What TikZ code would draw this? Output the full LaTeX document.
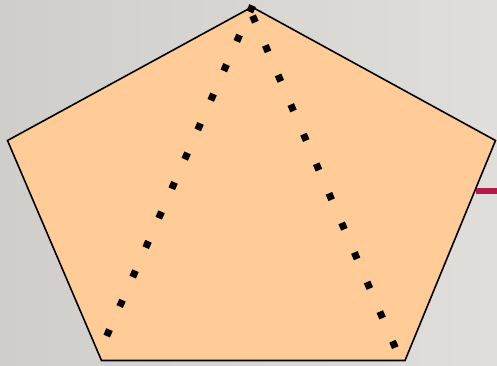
\documentclass[tikz,border=0pt]{standalone}
\usetikzlibrary{calc}
\definecolor{bgL}{RGB}{208,206,202}
\definecolor{bgR}{RGB}{224,222,219}
\definecolor{peach}{RGB}{255,203,151}
\definecolor{crimson}{RGB}{183,24,74}
\tikzset{
  pent/.style={draw=black, line width=1.6pt, fill=peach, line join=miter},
  dotline/.style={line width=7pt, line cap=butt, dash pattern=on 7pt off 25.2pt},
  accent/.style={draw=crimson, line width=5.5pt}
}
\begin{document}
\begin{tikzpicture}[x=1pt,y=-1pt]
\useasboundingbox (0,0) rectangle (497,365);
\shade[left color=bgL, right color=bgR] (0,0) rectangle (497,365);
\coordinate (rs) at (476,191);
\coordinate (re) at (497,191);
\draw[accent] (rs) -- (re);
\coordinate (T) at (252,7);
\coordinate (R) at (495.5,140.5);
\coordinate (BR) at (405,360.5);
\coordinate (BL) at (101.5,360.5);
\coordinate (L) at (7.5,140.5);
\path[pent] (T) -- (R) -- (BR) -- (BL) -- (L) -- cycle;
\coordinate (a1) at (252.6,5.6);
\coordinate (a2) at (106.6,336.2);
\coordinate (b1) at (252.6,15.8);
\coordinate (b2) at (395.6,348.4);
\draw[dotline] (a1) -- (a2);
\draw[dotline] (b1) -- (b2);
\end{tikzpicture}
\end{document}
